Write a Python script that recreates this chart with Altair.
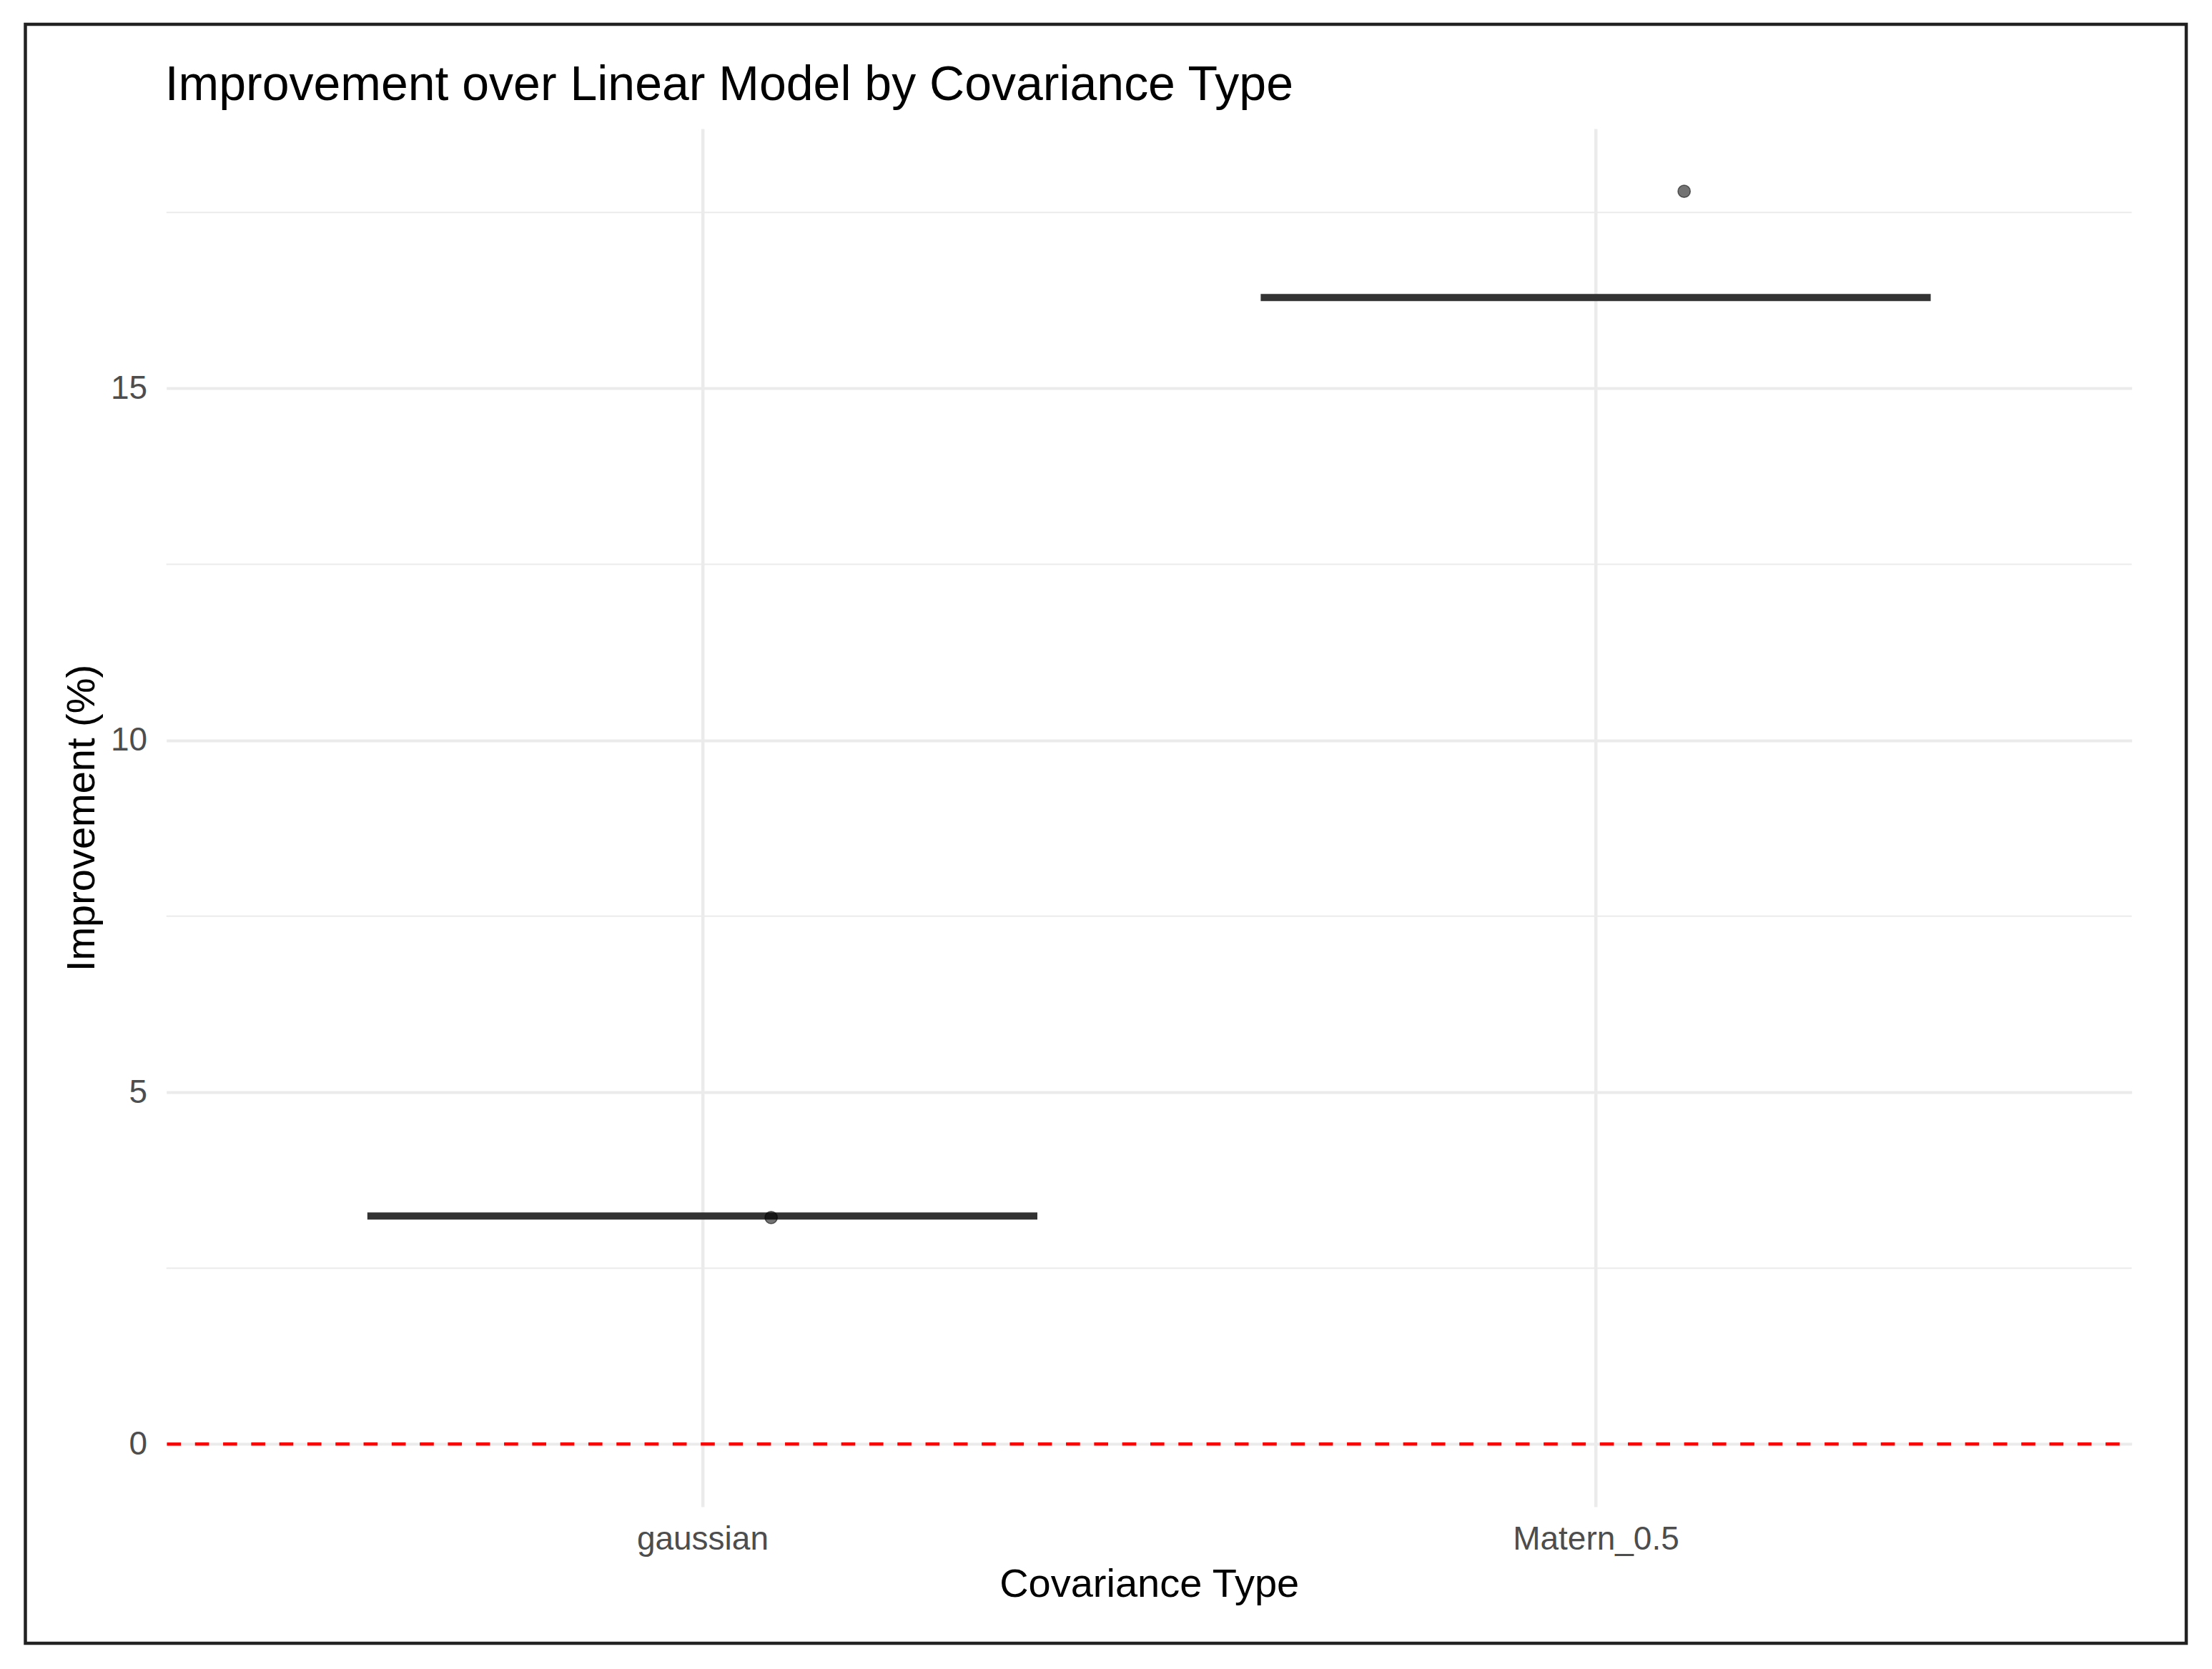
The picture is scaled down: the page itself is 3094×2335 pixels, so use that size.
import altair as alt
import pandas as pd

# ---- data ----
categories = ["gaussian", "Matern_0.5"]
medians = [3.24, 16.29]          # collapsed box (median line) per category
point_values = [3.22, 17.80]     # jittered observation per category
jitter = [0.077, 0.099]          # horizontal jitter (category units)
y_ticks = [0, 5, 10, 15]
y_minor = [2.5, 7.5, 12.5, 17.5]
ref_line = [0]
title_text = "Improvement over Linear Model by Covariance Type"
x_title = "Covariance Type"
y_title = "Improvement (%)"

FONT = "Liberation Sans"
W, H = 2749, 1928
BOX_HALF = 0.375

idx = list(range(1, len(categories) + 1))
box_df = pd.DataFrame({"cat": categories, "idx": idx, "median": medians})
pt_df = pd.DataFrame({"cat": categories, "idx": idx, "value": point_values, "jit": jitter})
minor_df = pd.DataFrame({"v": y_minor})
ref_df = pd.DataFrame({"v": ref_line})
one = pd.DataFrame({"k": [0]})

label_expr = " : ".join(
    [f"datum.value == {i} ? '{c}'" for i, c in zip(idx, categories)]
) + " : ''"

xscale = alt.Scale(domain=[0.4, len(categories) + 0.6], nice=False, zero=False)
yscale = alt.Scale(domain=[-0.89, 18.69], nice=False, zero=False)

x_axis = alt.Axis(
    values=idx, labelExpr=label_expr, title=x_title,
    grid=True, gridColor="#EBEBEB", gridWidth=4.5,
    domain=False, ticks=False, tickSize=0,
    labelFont=FONT, labelFontSize=46, labelColor="#4D4D4D",
    labelBaseline="alphabetic", labelPadding=60, labelLimit=0,
    labelFlush=False, labelOverlap=False,
    titleFont=FONT, titleFontSize=56, titleColor="black", titleFontWeight="normal",
    titleBaseline="alphabetic", titleY=126,
)
y_axis = alt.Axis(
    values=y_ticks, format="d", title=y_title,
    grid=True, gridColor="#EBEBEB", gridWidth=4,
    domain=False, ticks=False, tickSize=0,
    labelFont=FONT, labelFontSize=46, labelColor="#4D4D4D",
    labelBaseline="middle", labelPadding=27, labelLimit=0,
    titleFont=FONT, titleFontSize=56, titleColor="black", titleFontWeight="normal",
    titleBaseline="alphabetic", titleAngle=270, titleX=-100.7,
)

minor = alt.Chart(minor_df).mark_rule(color="#EBEBEB", strokeWidth=2).encode(
    y=alt.Y("v:Q", scale=yscale, axis=y_axis)
)

ref = alt.Chart(ref_df).mark_rule(
    color="#FF0000", strokeWidth=4.5, strokeDash=[19.65, 19.65], strokeDashOffset=22.4
).encode(
    y=alt.Y("v:Q", scale=yscale, axis=y_axis)
)

box = alt.Chart(box_df).transform_calculate(
    lo=f"datum.idx - {BOX_HALF}", hi=f"datum.idx + {BOX_HALF}"
).mark_rule(color="#333333", strokeWidth=10, strokeCap="butt").encode(
    x=alt.X("lo:Q", scale=xscale, axis=x_axis),
    x2="hi:Q",
    y=alt.Y("median:Q", scale=yscale, axis=y_axis),
)

pts = alt.Chart(pt_df).transform_calculate(
    px="datum.idx + datum.jit"
).mark_point(
    filled=True, shape="circle", size=300,
    fill="black", fillOpacity=0.55, stroke="black", strokeOpacity=0.55, strokeWidth=1.5,
).encode(
    x=alt.X("px:Q", scale=xscale, axis=x_axis),
    y=alt.Y("value:Q", scale=yscale, axis=y_axis),
)

title = alt.Chart(one).mark_text(
    text=title_text, align="left", baseline="alphabetic",
    font=FONT, fontSize=68, color="black",
).encode(x=alt.value(-2), y=alt.value(-40))

frame = alt.Chart(one).mark_rect(
    fillOpacity=0, stroke="#222222", strokeWidth=4.5
).encode(
    x=alt.value(-197.2), x2=alt.value(2825.3), y=alt.value(-146), y2=alt.value(2119)
)

chart = alt.layer(minor, ref, box, pts, title, frame).properties(
    width=W, height=H,
    autosize=alt.AutoSizeParams(type="none"),
    padding={"left": 224.7, "top": 172, "right": 100, "bottom": 205},
    background="white",
).configure_view(stroke="transparent")

chart.save("out.html", embed_options={"renderer": "svg", "actions": False})
